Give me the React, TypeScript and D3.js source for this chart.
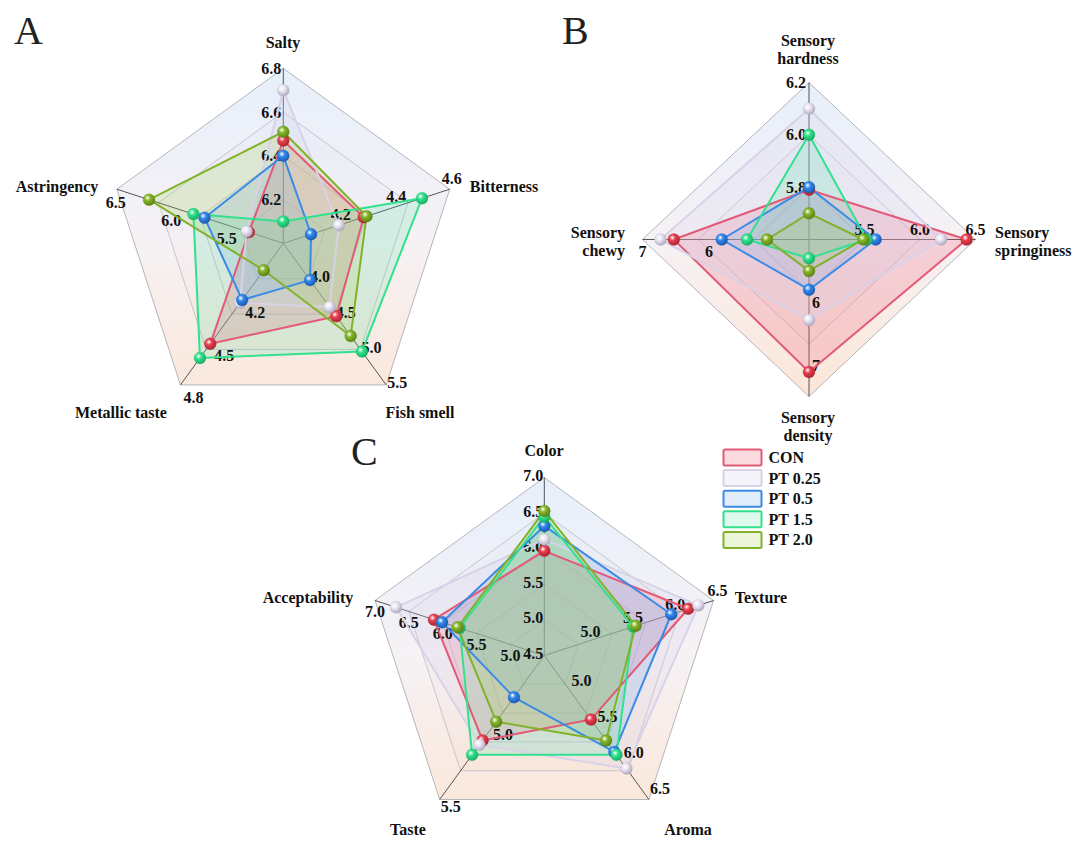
import React from 'react';
import * as d3 from 'd3';

// ---------------- DATA ----------------
const seriesNames = ['CON', 'PT 0.25', 'PT 0.5', 'PT 1.5', 'PT 2.0'];

// Panel A
const axesA = ['Salty', 'Bitterness', 'Fish smell', 'Metallic taste', 'Astringency'];
const minA = [6.0, 4.0, 3.5, 3.8, 5.0];
const maxA = [6.8, 4.6, 5.5, 4.8, 6.5];
const ticksA = [[6.2, 6.4, 6.6, 6.8], [4.2, 4.4, 4.6], [4.0, 4.5, 5.0, 5.5], [4.2, 4.5, 4.8], [5.5, 6.0, 6.5]];
const conA = [6.47, 4.29, 4.53, 4.51, 5.31];
const pt025A = [6.70, 4.20, 4.40, 4.22, 5.33];
const pt05A = [6.40, 4.10, 4.02, 4.20, 5.71];
const pt15A = [6.10, 4.50, 5.03, 4.61, 5.81];
const pt20A = [6.51, 4.30, 4.81, 3.99, 6.21];

// Panel B
const axesB = ['Sensory\nhardness', 'Sensory\nspringiness', 'Sensory\ndensity', 'Sensory\nchewy'];
const minB = [5.6, 5.0, 5.0, 4.5];
const maxB = [6.2, 6.5, 7.5, 7.0];
const ticksB = [[5.8, 6.0, 6.2], [5.5, 6.0, 6.5], [6, 7], [6, 7]];
const tickFmtB = ['.1f', '.1f', 'd', 'd'];
const conB = [5.79, 6.42, 7.11, 6.53];
const pt025B = [6.10, 6.19, 6.28, 6.73];
const pt05B = [5.80, 5.60, 5.80, 5.81];
const pt15B = [6.00, 5.52, 5.30, 5.43];
const pt20B = [5.70, 5.49, 5.50, 5.13];

// Panel C
const axesC = ['Color', 'Texture', 'Aroma', 'Taste', 'Acceptability'];
const minC = [4.5, 4.5, 4.5, 4.5, 4.5];
const maxC = [7.0, 6.5, 6.5, 5.5, 7.0];
const ticksC = [[4.5, 5.0, 5.5, 6.0, 6.5, 7.0], [5.0, 5.5, 6.0, 6.5], [5.0, 5.5, 6.0, 6.5], [5.0, 5.5], [5.0, 5.5, 6.0, 6.5, 7.0]];
const conC = [5.97, 6.20, 5.39, 5.09, 6.13];
const pt025C = [6.13, 6.32, 6.07, 5.12, 6.69];
const pt05C = [6.32, 6.00, 5.84, 4.79, 6.01];
const pt15C = [6.45, 5.55, 5.88, 5.19, 5.75];
const pt20C = [6.53, 5.58, 5.68, 4.96, 5.78];

// ---------------- STYLE ----------------
const FONT = '"Liberation Serif", "Times New Roman", serif';
const seriesStroke = ['#e25a78', '#d8d2e8', '#3a8be6', '#33e08e', '#82b22c'];
const seriesMarker = ['#e8404f', '#ebe7f3', '#3088ee', '#2fe28b', '#86b62a'];
const seriesFill = ['rgba(240,100,125,0.24)', 'rgba(215,208,235,0.24)', 'rgba(110,165,235,0.2)', 'rgba(70,230,160,0.18)', 'rgba(160,205,70,0.2)'];
const seriesDark = ['#a8202e', '#a9a3bd', '#1a55a8', '#16a860', '#557e12'];

type Panel = {
  id: string;
  cx: number; cy: number; rx: number; ry: number; rings: number;
  axes: string[]; mins: number[]; maxs: number[]; ticks: number[][]; fmts: string[];
  series: number[][];
  tickOff: [number, number][];
  titles: { x: number; y: number; anchor: string }[];
};

const panels: Panel[] = [
  {
    id: 'A', cx: 283.3, cy: 243.3, rx: 175, ry: 175, rings: 4,
    axes: axesA, mins: minA, maxs: maxA, ticks: ticksA, fmts: axesA.map(() => '.1f'),
    series: [conA, pt025A, pt05A, pt15A, pt20A],
    tickOff: [[-12, 0], [2, -11], [11, -2], [13, 13], [-1, 13]],
    titles: [
      { x: 283, y: 42, anchor: 'middle' },
      { x: 504, y: 186, anchor: 'middle' },
      { x: 420, y: 412, anchor: 'middle' },
      { x: 121, y: 412, anchor: 'middle' },
      { x: 57, y: 186, anchor: 'middle' },
    ],
  },
  {
    id: 'B', cx: 809, cy: 239.5, rx: 166.5, ry: 157, rings: 3,
    axes: axesB, mins: minB, maxs: maxB, ticks: ticksB, fmts: tickFmtB,
    series: [conB, pt025B, pt05B, pt15B, pt20B],
    tickOff: [[-13, 0], [0, -10], [7, 0], [0, 12]],
    titles: [
      { x: 808, y: 40, anchor: 'middle' },
      { x: 995, y: 232, anchor: 'start' },
      { x: 808, y: 417, anchor: 'middle' },
      { x: 625, y: 232, anchor: 'end' },
    ],
  },
  {
    id: 'C', cx: 544.3, cy: 655.5, rx: 178, ry: 178, rings: 5,
    axes: axesC, mins: minC, maxs: maxC, ticks: ticksC, fmts: axesC.map(() => '.1f'),
    series: [conC, pt025C, pt05C, pt15C, pt20C],
    tickOff: [[-11, -2], [4, -10], [11, -11], [11, 7], [0, 11]],
    titles: [
      { x: 544, y: 450, anchor: 'middle' },
      { x: 761, y: 597, anchor: 'middle' },
      { x: 688, y: 829, anchor: 'middle' },
      { x: 408, y: 829, anchor: 'middle' },
      { x: 308, y: 597, anchor: 'middle' },
    ],
  },
];

function RadarPanel({ p }: { p: Panel }) {
  const n = p.axes.length;
  const angle = (i: number) => (i * 2 * Math.PI) / n;
  const scales = p.axes.map((_, i) => d3.scaleLinear().domain([p.mins[i], p.maxs[i]]).range([0, 1]));
  const pt = (i: number, f: number): [number, number] => [
    p.cx + Math.sin(angle(i)) * f * p.rx,
    p.cy - Math.cos(angle(i)) * f * p.ry,
  ];
  const closed = d3.line<[number, number]>().curve(d3.curveLinearClosed);
  const ringFracs = d3.range(1, p.rings + 1).map((k) => k / p.rings);
  const gid = `bg${p.id}`;

  return (
    <g>
      <defs>
        <linearGradient id={gid} gradientUnits="userSpaceOnUse" x1={0} y1={p.cy - p.ry} x2={0} y2={p.cy + p.ry}>
          <stop offset="0" stopColor="#cfe0f6" />
          <stop offset="0.5" stopColor="#ede4ea" />
          <stop offset="1" stopColor="#f8cdae" />
        </linearGradient>
      </defs>
      {/* background bands */}
      {ringFracs.slice().reverse().map((f, k) => (
        <path key={`bg${k}`} d={closed(p.axes.map((_, i) => pt(i, f))) || ''} fill={`url(#${gid})`} fillOpacity={k === 0 ? 0.5 : 0.2} stroke="none" />
      ))}
      {/* ring lines */}
      {ringFracs.map((f, k) => (
        <path key={`r${k}`} d={closed(p.axes.map((_, i) => pt(i, f))) || ''} fill="none" stroke={k === ringFracs.length - 1 ? '#b5b5bd' : '#c6c6cd'} strokeWidth={1} />
      ))}
      {/* spokes */}
      {p.axes.map((_, i) => {
        const [x, y] = pt(i, 1);
        return <line key={`s${i}`} x1={p.cx} y1={p.cy} x2={x} y2={y} stroke="#555" strokeWidth={1} />;
      })}
      {/* series fills */}
      {p.series.map((vals, s) => (
        <path key={`f${s}`} d={closed(vals.map((v, i) => pt(i, scales[i](v)))) || ''} fill={seriesFill[s]} stroke="none" />
      ))}
      {/* tick labels */}
      {p.ticks.map((tv, i) =>
        tv.map((v, j) => {
          const [x, y] = pt(i, scales[i](v));
          return (
            <text key={`t${i}-${j}`} x={x + p.tickOff[i][0]} y={y + p.tickOff[i][1]} textAnchor="middle" dominantBaseline="central" fontFamily={FONT} fontWeight="bold" fontSize={16} fill="#111">
              {d3.format(p.fmts[i])(v)}
            </text>
          );
        })
      )}
      {/* series lines */}
      {p.series.map((vals, s) => (
        <path key={`l${s}`} d={closed(vals.map((v, i) => pt(i, scales[i](v)))) || ''} fill="none" stroke={seriesStroke[s]} strokeWidth={2} strokeLinejoin="round" />
      ))}
      {/* markers */}
      {p.series.map((vals, s) =>
        vals.map((v, i) => {
          const [x, y] = pt(i, scales[i](v));
          return <circle key={`m${s}-${i}`} cx={x} cy={y} r={6} fill={`url(#ball${s})`} stroke={seriesDark[s]} strokeOpacity={0.35} strokeWidth={0.6} />;
        })
      )}
      {/* axis titles */}
      {p.axes.map((name, i) => {
        const t = p.titles[i];
        const lines = name.split('\n');
        return (
          <text key={`ax${i}`} x={t.x} y={t.y} textAnchor={t.anchor as any} dominantBaseline="central" fontFamily={FONT} fontWeight="bold" fontSize={16} fill="#111">
            {lines.map((ln, k) => (
              <tspan key={k} x={t.x} dy={k === 0 ? 0 : 18}>{ln}</tspan>
            ))}
          </text>
        );
      })}
    </g>
  );
}

const panelLetters = [
  { t: 'A', x: 14, y: 44 },
  { t: 'B', x: 562, y: 44 },
  { t: 'C', x: 351, y: 465 },
];

export default function App() {
  const legendX = 723.5;
  const legendY = 449.5;
  const legendStep = 20.6;
  return (
    <svg width={1080} height={843} style={{ position: 'absolute', left: 0, top: 0, background: '#fff' }}>
      <defs>
        {seriesMarker.map((c, s) => (
          <radialGradient key={s} id={`ball${s}`} cx="0.38" cy="0.35" r="0.7">
            <stop offset="0" stopColor="#ffffff" />
            <stop offset="0.35" stopColor={c} />
            <stop offset="1" stopColor={seriesDark[s]} />
          </radialGradient>
        ))}
      </defs>
      <rect x={0} y={0} width={1080} height={843} fill="#fff" />
      {panels.map((p) => (
        <RadarPanel key={p.id} p={p} />
      ))}
      {panelLetters.map((l) => (
        <text key={l.t} x={l.x} y={l.y} fontFamily={FONT} fontSize={40} fill="#222">{l.t}</text>
      ))}
      {/* legend */}
      {seriesNames.map((name, s) => (
        <g key={name}>
          <rect x={legendX} y={legendY + s * legendStep} width={38} height={16} rx={1.5} fill={seriesFill[s]} stroke={seriesStroke[s]} strokeWidth={2} />
          <text x={legendX + 45} y={legendY + s * legendStep + 8} dominantBaseline="central" fontFamily={FONT} fontWeight="bold" fontSize={16} fill="#111">{name}</text>
        </g>
      ))}
    </svg>
  );
}
